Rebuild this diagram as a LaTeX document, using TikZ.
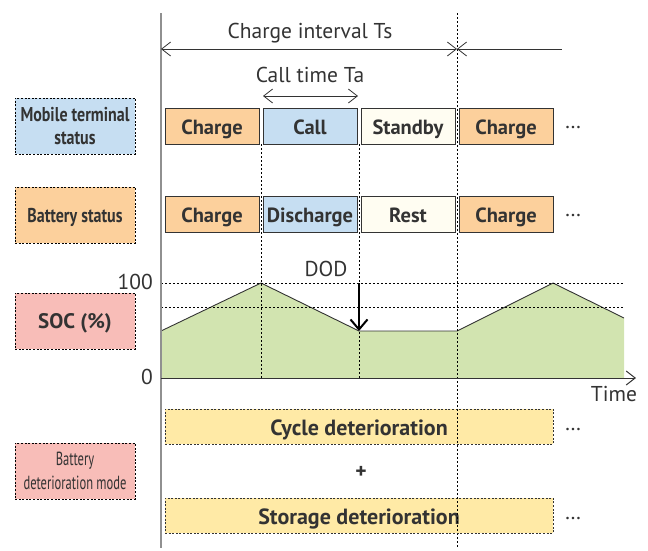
\documentclass[tikz,border=0pt]{standalone}
\usepackage{fontspec}
\setmainfont{PT Sans}
\usetikzlibrary{arrows.meta}
\definecolor{peach}{HTML}{FCD09C}
\definecolor{lblue}{HTML}{C6DEF2}
\definecolor{cream}{HTML}{FFFDF2}
\definecolor{pinkc}{HTML}{F8BDB8}
\definecolor{greenc}{HTML}{D2E4B0}
\definecolor{yellowc}{HTML}{FFEAA6}
\definecolor{edge}{HTML}{333333}
\definecolor{axisgray}{HTML}{909090}
\tikzset{
  statebox/.style={draw=edge, line width=1pt, minimum width=94pt, minimum height=36pt, inner sep=0pt, text height=17pt, text depth=0pt, font=\fontsize{20.5}{20.5}\selectfont\bfseries, text=edge},
  labelbox/.style={draw=black, line width=0.8pt, dash pattern=on 2pt off 1.6pt, minimum width=120pt, minimum height=56pt, inner sep=0pt, align=center, text=edge},
  detbox/.style={draw=edge, line width=0.8pt, dash pattern=on 2pt off 1.6pt, fill=yellowc, minimum width=388pt, minimum height=35pt, inner sep=0pt, text height=17pt, text depth=0pt, font=\fontsize{22}{22}\selectfont\bfseries, text=edge},
  guide/.style={line width=0.8pt, dash pattern=on 2pt off 2pt, black},
  plain/.style={font=\fontsize{21.5}{21.5}\selectfont, text=edge, inner sep=0pt},
  barb/.tip={Straight Barb[length=9pt,width=14pt]}
}
\newcommand{\condl}[1]{\scalebox{0.8}[1]{#1}}
\newcommand{\condm}[1]{\scalebox{0.66}[1]{#1}}
\begin{document}
\begin{tikzpicture}[x=1pt,y=-1pt]
\useasboundingbox (0,0) rectangle (648,550);
% coordinates
\coordinate (axtop) at (161,13);
\coordinate (axbot) at (161,548);
\coordinate (o) at (161,378);
\coordinate (tend) at (636,378);
\coordinate (la) at (161,283);
\coordinate (lae) at (624,283);
\coordinate (lb) at (161,307);
\coordinate (lbe) at (624,307);
\coordinate (v1t) at (261,144);
\coordinate (v1b) at (261,378);
\coordinate (v2t) at (359,144);
\coordinate (v2b) at (359,378);
\coordinate (v3t) at (457,13);
\coordinate (v3b) at (457,548);
\coordinate (ci1) at (161,49);
\coordinate (ci2) at (457,49);
\coordinate (ci3) at (562,49);
\coordinate (ct1) at (263,96);
\coordinate (ct2) at (358,96);
\coordinate (dodt) at (359,283);
\coordinate (dodb) at (359,331);

% SOC area
\fill[greenc] (161,378) -- (161,331) -- (261,283) -- (359,331) -- (457,331) -- (553,283) -- (624,318) -- (624,378) -- cycle;
\draw[line width=0.9pt, edge] (161,331) -- (261,283) -- (359,331) -- (457,331) -- (553,283) -- (624,318);

% guides
\draw[guide] (la) -- (lae);
\draw[guide] (lb) -- (lbe);
\draw[guide] (v1t) -- (v1b);
\draw[guide] (v2t) -- (v2b);
\draw[guide] (v3t) -- (v3b);

% axes
\draw[line width=1.6pt, axisgray] (axtop) -- (axbot);
\draw[line width=1pt, edge, -barb] (o) -- (tend);

% dimension arrows
\draw[line width=0.8pt, edge, barb-barb] (ci1) -- (ci2);
\draw[line width=0.8pt, edge, barb-] (ci2) -- (ci3);
\draw[line width=0.8pt, edge, barb-barb] (ct1) -- (ct2);
\draw[line width=2pt, black, -{Straight Barb[length=10pt,width=17pt]}] (dodt) -- (dodb);

% texts
\node[plain] (tci) at (310,33) {Charge interval Ts};
\node[plain] (tct) at (310,75) {Call time Ta};
\node[plain] (tdod) at (326,269) {DOD};
\node[plain, anchor=east] (t100) at (153,282) {100};
\node[plain, anchor=east] (t0) at (153,377) {0};
\node[plain] (ttime) at (614,394) {Time};

% left label boxes
\node[labelbox, fill=lblue, font=\fontsize{20}{23}\selectfont\bfseries] (mts) at (75,126) {\condl{Mobile terminal}\\\condl{status}};
\node[labelbox, fill=peach, font=\fontsize{20}{23}\selectfont\bfseries, text height=15pt, text depth=0pt] (bs) at (75,215) {\condl{Battery status}};
\node[labelbox, fill=pinkc, font=\fontsize{21}{21}\selectfont\bfseries, text height=15pt, text depth=0pt] (soc) at (75,321) {SOC (\%)};
\node[labelbox, fill=pinkc, font=\fontsize{19}{24}\selectfont] (bdm) at (75,471) {\condm{Battery}\\\condm{deterioration mode}};

% row 1
\node[statebox, fill=peach] (m1) at (212,126) {Charge};
\node[statebox, fill=lblue] (m2) at (310,126) {Call};
\node[statebox, fill=cream] (m3) at (408,126) {Standby};
\node[statebox, fill=peach] (m4) at (506,126) {Charge};
\node[plain] (md) at (573,128) {\dots};
% row 2
\node[statebox, fill=peach] (b1) at (212,214) {Charge};
\node[statebox, fill=lblue] (b2) at (310,214) {Discharge};
\node[statebox, fill=cream] (b3) at (408,214) {Rest};
\node[statebox, fill=peach] (b4) at (506,214) {Charge};
\node[plain] (bd) at (573,216) {\dots};

% deterioration
\node[detbox] (cyc) at (359,426.5) {Cycle deterioration};
\node[detbox] (sto) at (359,515.5) {Storage deterioration};
\node[plain] (plus) at (361,472) {\textbf{+}};
\node[plain] (cd) at (573,430) {\dots};
\node[plain] (sd) at (573,519) {\dots};
\draw[guide] (457,409) -- (457,533);
\end{tikzpicture}
\end{document}
